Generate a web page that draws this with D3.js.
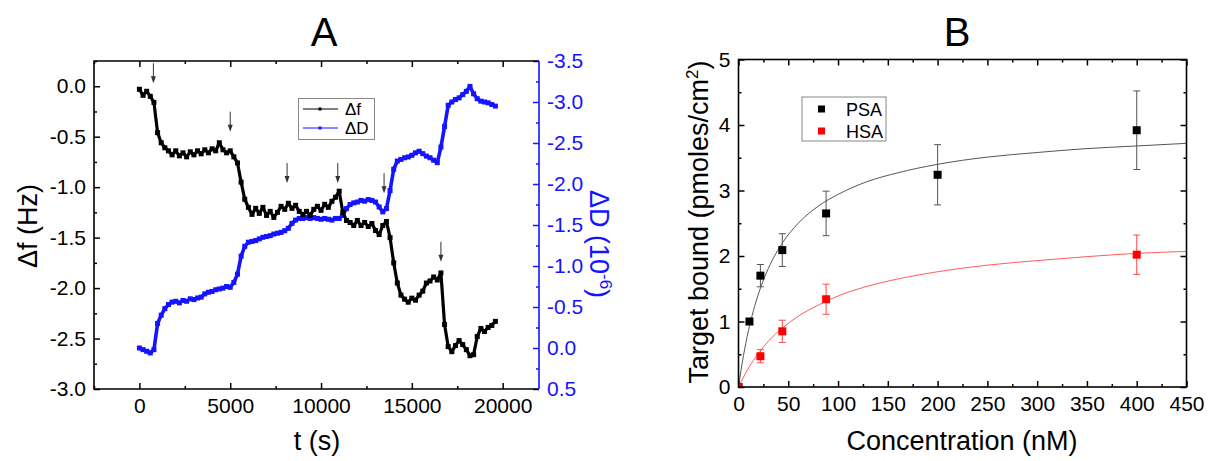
<!DOCTYPE html>
<html>
<head>
<meta charset="utf-8">
<script src="https://cdn.jsdelivr.net/npm/d3@7"></script>
<style>
  body { margin: 0; background: #fff; }
  svg text { font-family: "Liberation Sans", Arial, sans-serif; }
</style>
</head>
<body>
<svg id="chart" width="1208" height="461"></svg>
<script>
// ---- panel A : QCM-D trace ----
const tSec = [
  0,200,400,600,800,1000,1200,1400,1600,1800,
  2000,2200,2400,2600,2800,3000,3200,3400,3600,3800,
  4000,4200,4400,4600,4800,5000,5200,5400,5600,5800,
  6000,6200,6400,6600,6800,7000,7200,7400,7600,7800,
  8000,8200,8400,8600,8800,9000,9200,9400,9600,9800,
  10000,10200,10400,10600,10800,11000,11200,11400,11600,11800,
  12000,12200,12400,12600,12800,13000,13200,13400,13600,13800,
  14000,14200,14400,14600,14800,15000,15200,15400,15600,15800,
  16000,16200,16400,16600,16800,17000,17200,17400,17600,17800,
  18000,18200,18400,18600,18800,19000,19200,19400,19600
];
const deltaF = [
  -0.03,-0.09,-0.05,-0.10,-0.16,-0.46,-0.56,-0.61,-0.64,-0.68,
  -0.64,-0.69,-0.66,-0.70,-0.65,-0.68,-0.64,-0.67,-0.63,-0.66,
  -0.62,-0.64,-0.56,-0.63,-0.66,-0.64,-0.70,-0.76,-0.95,-1.12,
  -1.20,-1.27,-1.21,-1.26,-1.20,-1.28,-1.24,-1.30,-1.25,-1.19,
  -1.22,-1.16,-1.21,-1.18,-1.24,-1.27,-1.24,-1.28,-1.22,-1.19,
  -1.23,-1.17,-1.20,-1.14,-1.10,-1.04,-1.25,-1.33,-1.35,-1.38,
  -1.33,-1.38,-1.35,-1.39,-1.36,-1.43,-1.47,-1.38,-1.34,-1.50,
  -1.75,-1.95,-2.07,-2.11,-2.14,-2.10,-2.12,-2.07,-2.03,-1.95,
  -1.93,-1.89,-1.92,-1.85,-2.36,-2.58,-2.63,-2.57,-2.52,-2.56,
  -2.61,-2.67,-2.66,-2.48,-2.40,-2.43,-2.39,-2.37,-2.33
];
const deltaD = [
  0.00,0.02,0.04,0.06,0.02,-0.30,-0.40,-0.48,-0.53,-0.56,
  -0.57,-0.55,-0.58,-0.57,-0.60,-0.59,-0.61,-0.62,-0.66,-0.68,
  -0.69,-0.71,-0.72,-0.73,-0.75,-0.74,-0.80,-0.90,-1.12,-1.24,
  -1.29,-1.30,-1.31,-1.33,-1.35,-1.36,-1.37,-1.39,-1.40,-1.41,
  -1.43,-1.46,-1.52,-1.56,-1.58,-1.58,-1.59,-1.58,-1.59,-1.58,
  -1.57,-1.58,-1.57,-1.56,-1.58,-1.58,-1.62,-1.70,-1.75,-1.77,
  -1.78,-1.80,-1.79,-1.81,-1.80,-1.78,-1.72,-1.66,-1.70,-1.92,
  -2.18,-2.28,-2.30,-2.32,-2.33,-2.35,-2.38,-2.40,-2.37,-2.34,
  -2.32,-2.29,-2.26,-2.45,-2.70,-2.96,-3.00,-3.03,-3.05,-3.09,
  -3.13,-3.19,-3.10,-3.04,-3.01,-3.00,-2.99,-2.97,-2.95
];
// injection arrows: time and the Δf value at the arrow tip
const arrowT = [770, 5000, 8130, 10920, 13470, 16600];
const arrowTip = [0.03, -0.45, -0.96, -0.96, -1.06, -1.74];

// ---- panel B : binding isotherm ----
const psaConc = [0, 11, 22, 44, 88, 200, 400];
const psaBound = [0, 1.00, 1.70, 2.09, 2.65, 3.24, 3.92];
const psaErr = [0, 0.03, 0.17, 0.25, 0.34, 0.46, 0.60];
const hsaConc = [0, 22, 44, 88, 400];
const hsaBound = [0, 0.47, 0.85, 1.34, 2.02];
const hsaErr = [0, 0.10, 0.17, 0.23, 0.30];
const fitConc = [0,5,10,20,30,45,60,80,100,130,160,200,250,300,350,400,450];
const psaFit = [0,0.48,0.86,1.42,1.81,2.22,2.50,2.76,2.94,3.14,3.27,3.40,3.51,3.58,3.64,3.68,3.72];
const hsaFit = [0,0.15,0.29,0.51,0.70,0.91,1.08,1.25,1.39,1.54,1.65,1.76,1.86,1.93,1.99,2.04,2.07];

const blue = "#1414ff";
const FONT = "Liberation Sans, Arial, sans-serif";
const svg = d3.select("#chart");

function addAxis(axis, tx, ty, color) {
  const g = svg.append("g")
    .attr("transform", `translate(${tx},${ty})`)
    .call(axis)
    .attr("font-family", FONT)
    .attr("font-size", 21);
  g.select(".domain").remove();
  g.selectAll(".tick line").attr("stroke", color).attr("stroke-width", 1.5);
  g.selectAll(".tick text").attr("fill", color);
  return g;
}
const fmt1 = (d) => d.toFixed(1).replace("-0.0", "0.0");

// ============ panel A ============
const A = { l: 94, r: 539, t: 61, b: 389 };
const x = d3.scaleLinear([-2500, 22000], [A.l, A.r]);
const yF = d3.scaleLinear([-3.0, 0.25], [A.b, A.t]);
const yD = d3.scaleLinear([0.5, -3.5], [A.b, A.t]);

const xMajor = [0, 5000, 10000, 15000, 20000];
const xMinor = [-2500, 2500, 7500, 12500, 17500];
const fMajor = [-3, -2.5, -2, -1.5, -1, -0.5, 0];
const fMinor = [-2.75, -2.25, -1.75, -1.25, -0.75, -0.25, 0.25];
const dMajor = [0.5, 0, -0.5, -1, -1.5, -2, -2.5, -3, -3.5];
const dMinor = [0.25, -0.25, -0.75, -1.25, -1.75, -2.25, -2.75, -3.25];

addAxis(d3.axisBottom(x).tickValues(xMajor).tickSize(-6).tickPadding(9).tickFormat(d3.format("d")), 0, A.b, "#000");
addAxis(d3.axisBottom(x).tickValues(xMinor).tickSize(-3).tickFormat(""), 0, A.b, "#000");
addAxis(d3.axisTop(x).tickValues(xMajor).tickSize(-6).tickFormat(""), 0, A.t, "#000");
addAxis(d3.axisTop(x).tickValues(xMinor).tickSize(-3).tickFormat(""), 0, A.t, "#000");
addAxis(d3.axisLeft(yF).tickValues(fMajor).tickSize(-6).tickPadding(8).tickFormat(fmt1), A.l, 0, "#000");
addAxis(d3.axisLeft(yF).tickValues(fMinor).tickSize(-3).tickFormat(""), A.l, 0, "#000");
addAxis(d3.axisRight(yD).tickValues(dMajor).tickSize(-6).tickPadding(8).tickFormat(fmt1), A.r, 0, blue);
addAxis(d3.axisRight(yD).tickValues(dMinor).tickSize(-3).tickFormat(""), A.r, 0, blue);

// frame
svg.append("path")
  .attr("d", `M${A.r},${A.t}H${A.l}V${A.b}H${A.r}`)
  .attr("fill", "none").attr("stroke", "#000").attr("stroke-width", 1.6);
svg.append("line")
  .attr("x1", A.r).attr("x2", A.r).attr("y1", A.t).attr("y2", A.b)
  .attr("stroke", blue).attr("stroke-width", 1.6);

// series: thick trace + small square markers
const fPts = tSec.map((t, i) => [x(t), yF(deltaF[i])]);
const dPts = tSec.map((t, i) => [x(t), yD(deltaD[i])]);
function drawTrace(pts, color, w, m) {
  svg.append("path")
    .attr("d", d3.line()(pts))
    .attr("fill", "none").attr("stroke", color).attr("stroke-width", w)
    .attr("stroke-linejoin", "round");
  svg.append("g").selectAll("rect").data(pts).join("rect")
    .attr("x", (d) => d[0] - m / 2).attr("y", (d) => d[1] - m / 2)
    .attr("width", m).attr("height", m).attr("fill", color);
}
drawTrace(dPts, blue, 3.6, 5);
drawTrace(fPts, "#000", 3.2, 5);

// arrows
arrowT.forEach((t, i) => {
  const ax = x(t), ay = yF(arrowTip[i]);
  svg.append("line").attr("x1", ax).attr("x2", ax).attr("y1", ay - 20).attr("y2", ay - 4)
    .attr("stroke", "#333").attr("stroke-width", 1);
  svg.append("path").attr("d", `M${ax - 2.5},${ay - 7}L${ax + 2.5},${ay - 7}L${ax},${ay}Z`)
    .attr("fill", "#333");
});

// legend A
const legA = svg.append("g");
legA.append("rect").attr("x", 298.5).attr("y", 98.5).attr("width", 76).attr("height", 41)
  .attr("fill", "#fff").attr("stroke", "#888").attr("stroke-width", 1);
[["Δf", "#000", 109], ["ΔD", blue, 128]].forEach(([lab, c, ly]) => {
  legA.append("line").attr("x1", 303).attr("x2", 338).attr("y1", ly).attr("y2", ly)
    .attr("stroke", c).attr("stroke-width", 1);
  legA.append("rect").attr("x", 318.5).attr("y", ly - 1.5).attr("width", 3).attr("height", 3).attr("fill", c);
  legA.append("text").attr("x", 345).attr("y", ly + 6).style("font-size", "17px").text(lab);
});

// titles / labels A
svg.append("text").attr("x", 324).attr("y", 46).attr("text-anchor", "middle")
  .style("font-size", "40px").text("A");
svg.append("text").attr("x", 317).attr("y", 450).attr("text-anchor", "middle")
  .style("font-size", "27px").text("t (s)");
svg.append("text").attr("transform", "translate(37,226) rotate(-90)").attr("text-anchor", "middle")
  .style("font-size", "27px").text("Δf (Hz)");
const dLab = svg.append("text").attr("transform", "translate(590,244) rotate(90)")
  .attr("text-anchor", "middle").attr("fill", blue).style("font-size", "27px");
dLab.append("tspan").text("ΔD (10");
dLab.append("tspan").attr("dy", -10).style("font-size", "17px").text("-6");
dLab.append("tspan").attr("dy", 10).text(")");

// ============ panel B ============
const B = { l: 738.5, r: 1186.5, t: 59.5, b: 387 };
const xB = d3.scaleLinear([0, 450], [B.l, B.r]);
const yB = d3.scaleLinear([0, 5], [B.b, B.t]);
const cMajor = [0, 50, 100, 150, 200, 250, 300, 350, 400, 450];
const cMinor = [25, 75, 125, 175, 225, 275, 325, 375, 425];
const bMajor = [0, 1, 2, 3, 4, 5];
const bMinor = [0.5, 1.5, 2.5, 3.5, 4.5];

addAxis(d3.axisBottom(xB).tickValues(cMajor).tickSize(-6).tickPadding(9).tickFormat(d3.format("d")), 0, B.b, "#000");
addAxis(d3.axisBottom(xB).tickValues(cMinor).tickSize(-3).tickFormat(""), 0, B.b, "#000");
addAxis(d3.axisTop(xB).tickValues(cMajor).tickSize(-6).tickFormat(""), 0, B.t, "#000");
addAxis(d3.axisTop(xB).tickValues(cMinor).tickSize(-3).tickFormat(""), 0, B.t, "#000");
addAxis(d3.axisLeft(yB).tickValues(bMajor).tickSize(-6).tickPadding(8).tickFormat(d3.format("d")), B.l, 0, "#000");
addAxis(d3.axisLeft(yB).tickValues(bMinor).tickSize(-3).tickFormat(""), B.l, 0, "#000");
addAxis(d3.axisRight(yB).tickValues(bMajor).tickSize(-6).tickFormat(""), B.r, 0, "#000");
addAxis(d3.axisRight(yB).tickValues(bMinor).tickSize(-3).tickFormat(""), B.r, 0, "#000");

svg.append("defs").append("clipPath").attr("id", "clipB")
  .append("rect").attr("x", B.l).attr("y", B.t).attr("width", B.r - B.l).attr("height", B.b - B.t);
const plotB = svg.append("g").attr("clip-path", "url(#clipB)");

const fitLine = d3.line().curve(d3.curveMonotoneX);
plotB.append("path").attr("d", fitLine(fitConc.map((c, i) => [xB(c), yB(psaFit[i])])))
  .attr("fill", "none").attr("stroke", "#555").attr("stroke-width", 1);
plotB.append("path").attr("d", fitLine(fitConc.map((c, i) => [xB(c), yB(hsaFit[i])])))
  .attr("fill", "none").attr("stroke", "#ff5c5c").attr("stroke-width", 1);

function drawPoints(conc, val, err, markColor, barColor) {
  conc.forEach((c, i) => {
    const cx = xB(c), cy = yB(val[i]);
    if (err[i] > 0) {
      const y1 = yB(val[i] + err[i]), y2 = yB(val[i] - err[i]);
      plotB.append("path")
        .attr("d", `M${cx},${y1}V${y2}M${cx - 3.5},${y1}H${cx + 3.5}M${cx - 3.5},${y2}H${cx + 3.5}`)
        .attr("stroke", barColor).attr("stroke-width", 1).attr("fill", "none");
    }
    plotB.append("rect").attr("x", cx - 4).attr("y", cy - 4).attr("width", 8).attr("height", 8)
      .attr("fill", markColor);
  });
}
drawPoints(psaConc, psaBound, psaErr, "#000", "#555");
drawPoints(hsaConc, hsaBound, hsaErr, "#ff0000", "#ff4a4a");

svg.append("rect").attr("x", B.l).attr("y", B.t).attr("width", B.r - B.l).attr("height", B.b - B.t)
  .attr("fill", "none").attr("stroke", "#000").attr("stroke-width", 1.6);

// legend B
const legB = svg.append("g");
legB.append("rect").attr("x", 802).attr("y", 97).attr("width", 84).attr("height", 44)
  .attr("fill", "#fff").attr("stroke", "#888").attr("stroke-width", 1);
[["PSA", "#000", 109], ["HSA", "#ff0000", 131]].forEach(([lab, c, ly]) => {
  legB.append("rect").attr("x", 818).attr("y", ly - 3.5).attr("width", 7).attr("height", 7).attr("fill", c);
  legB.append("text").attr("x", 846).attr("y", ly + 6.5).style("font-size", "18px").text(lab);
});

svg.append("text").attr("x", 957).attr("y", 46).attr("text-anchor", "middle")
  .style("font-size", "40px").text("B");
svg.append("text").attr("x", 962).attr("y", 450).attr("text-anchor", "middle")
  .style("font-size", "27px").text("Concentration (nM)");
const tLab = svg.append("text").attr("transform", "translate(708,222) rotate(-90)")
  .attr("text-anchor", "middle").style("font-size", "27px");
tLab.append("tspan").text("Target bound (pmoles/cm");
tLab.append("tspan").attr("dy", -10).style("font-size", "17px").text("2");
tLab.append("tspan").attr("dy", 10).text(")");
</script>
</body>
</html>
